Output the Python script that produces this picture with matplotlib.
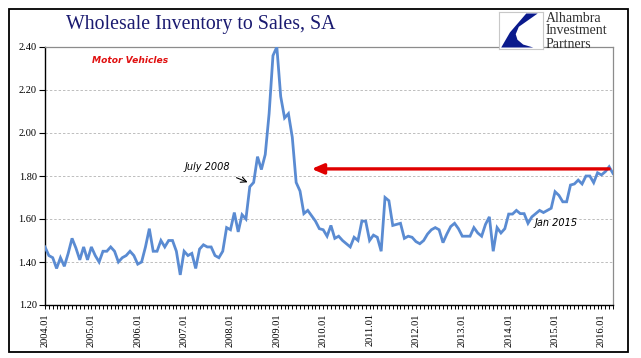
import matplotlib
matplotlib.use("Agg")
import matplotlib.pyplot as plt
from matplotlib.patches import Rectangle, Polygon
from matplotlib.ticker import FixedLocator

# ---- data ----
start_month = "2004-01"
values = [
    1.47, 1.43, 1.42, 1.37, 1.42, 1.38, 1.44, 1.51, 1.465, 1.41, 1.47, 1.41,   # 2004
    1.47, 1.43, 1.40, 1.45, 1.45, 1.47, 1.45, 1.40, 1.42, 1.43, 1.45, 1.43,    # 2005
    1.39, 1.40, 1.47, 1.555, 1.45, 1.45, 1.50, 1.47, 1.50, 1.50, 1.45, 1.34,   # 2006
    1.45, 1.43, 1.44, 1.37, 1.46, 1.48, 1.47, 1.47, 1.43, 1.42, 1.45, 1.56,    # 2007
    1.55, 1.63, 1.54, 1.62, 1.60, 1.75, 1.77, 1.89, 1.83, 1.90, 2.09, 2.36,    # 2008
    2.40, 2.17, 2.07, 2.09, 1.98, 1.77, 1.73, 1.625, 1.64, 1.615, 1.59, 1.555, # 2009
    1.55, 1.52, 1.57, 1.51, 1.52, 1.50, 1.485, 1.47, 1.515, 1.50, 1.59, 1.59,  # 2010
    1.50, 1.525, 1.515, 1.45, 1.70, 1.685, 1.57, 1.575, 1.58, 1.51, 1.52, 1.515,  # 2011
    1.495, 1.485, 1.50, 1.53, 1.55, 1.56, 1.55, 1.49, 1.53, 1.565, 1.58, 1.555,   # 2012
    1.52, 1.52, 1.52, 1.56, 1.535, 1.52, 1.575, 1.61, 1.45, 1.56, 1.535, 1.555,   # 2013
    1.623, 1.623, 1.64, 1.625, 1.625, 1.58, 1.61, 1.625, 1.64, 1.63, 1.64, 1.65,  # 2014
    1.727, 1.71, 1.68, 1.68, 1.758, 1.763, 1.781, 1.763, 1.80, 1.80, 1.769, 1.815,  # 2015
    1.805, 1.82, 1.843, 1.812,                                                  # 2016
]
tick_labels = ["2004.01", "2005.01", "2006.01", "2007.01", "2008.01", "2009.01",
               "2010.01", "2011.01", "2012.01", "2013.01", "2014.01", "2015.01",
               "2016.01"]
y_ticks = [1.20, 1.40, 1.60, 1.80, 2.00, 2.20, 2.40]
title = "Wholesale Inventory to Sales, SA"
series_label = "Motor Vehicles"
ann_july = "July 2008"
ann_jan = "Jan 2015"
arrow_level = 1.833
arrow_from_idx = 146
arrow_to_idx = 69

# ---- figure ----
W, H, DPI = 641, 358, 100
fig = plt.figure(figsize=(W / DPI, H / DPI), dpi=DPI)
fig.patch.set_facecolor("white")

# outer black frame
fig.patches.append(Rectangle((9 / W, 1 - 352 / H), (628 - 9) / W, (352 - 9) / H,
                             transform=fig.transFigure, fill=False,
                             edgecolor="black", linewidth=1.3, zorder=0))

L, R, T, B = 45, 613, 47, 305
ax = fig.add_axes([L / W, 1 - B / H, (R - L) / W, (B - T) / H])

x = list(range(len(values)))
ax.plot(x, values, color="#5A8BD2", linewidth=2.0, solid_joinstyle="miter", zorder=3)

ax.set_xlim(0, len(values) - 1)
ax.set_ylim(y_ticks[0], y_ticks[-1])

# gridlines
for yv in y_ticks[1:-1]:
    ax.axhline(yv, color="#BDBDBD", linewidth=0.7, linestyle=(0, (2.5, 2)), zorder=1)

for s in ["top", "right"]:
    ax.spines[s].set_color("#8C8C8C")
    ax.spines[s].set_linewidth(0.9)
for s in ["left", "bottom"]:
    ax.spines[s].set_color("black")
    ax.spines[s].set_linewidth(1.0)

ax.set_yticks(y_ticks)
ax.set_yticklabels([f"{v:.2f}" for v in y_ticks], fontfamily="Liberation Serif",
                   fontsize=7.5)
ax.tick_params(axis="y", direction="out", length=4, width=0.8, pad=2, colors="black")

ax.xaxis.set_major_locator(FixedLocator([12 * i for i in range(len(tick_labels))]))
ax.set_xticklabels(tick_labels, rotation=90, fontfamily="Liberation Serif", fontsize=7.5)
ax.xaxis.set_minor_locator(FixedLocator(x))
ax.tick_params(axis="x", which="both", direction="out", length=3, width=0.7, pad=3)

# annotations
ax.text(22, 2.336, series_label, color="#E01010", fontsize=6.6, fontweight="bold",
        fontstyle="italic", fontfamily="DejaVu Sans", ha="center", va="center")
ax.text(42.1, 1.843, ann_july, color="black", fontsize=7, fontstyle="italic",
        fontfamily="DejaVu Sans", ha="center", va="center")
ax.annotate("", xy=(53.1, 1.766), xytext=(48.9, 1.797),
            arrowprops=dict(arrowstyle="->", color="black", lw=0.8))
ax.text(132.2, 1.583, ann_jan, color="black", fontsize=7, fontstyle="italic",
        fontfamily="DejaVu Sans", ha="center", va="center")
ax.annotate("", xy=(arrow_to_idx, arrow_level), xytext=(arrow_from_idx, arrow_level),
            arrowprops=dict(arrowstyle="-|>,head_length=0.7,head_width=0.3",
                            color="#E00000", lw=2.4, shrinkA=0, shrinkB=0), zorder=4)

# title
fig.text(66 / W, 1 - 24 / H, title, color="#1A1A70", fontsize=14.3,
         fontfamily="Liberation Serif", ha="left", va="center")

# logo
lx0, ly0, lw, lh = 499, 12, 44, 37
logo = fig.add_axes([lx0 / W, 1 - (ly0 + lh) / H, lw / W, lh / H])
logo.set_xlim(0, 1)
logo.set_ylim(0, 1)
logo.set_xticks([])
logo.set_yticks([])
for s in logo.spines.values():
    s.set_color("#C8C8C8")
    s.set_linewidth(0.8)
logo.add_patch(Polygon([(0.88, 0.96), (0.62, 0.96), (0.25, 0.45), (0.05, 0.04),
                        (0.78, 0.04), (0.55, 0.12), (0.42, 0.25), (0.38, 0.40),
                        (0.45, 0.60)], closed=True, facecolor="#0A1A8C",
                       edgecolor="none"))
for i, word in enumerate(["Alhambra", "Investment", "Partners"]):
    fig.text(546 / W, 1 - (18 + 13 * i) / H, word, color="#303030", fontsize=10,
             fontfamily="Liberation Serif", ha="left", va="center")

fig.savefig("out.png", dpi=DPI)
